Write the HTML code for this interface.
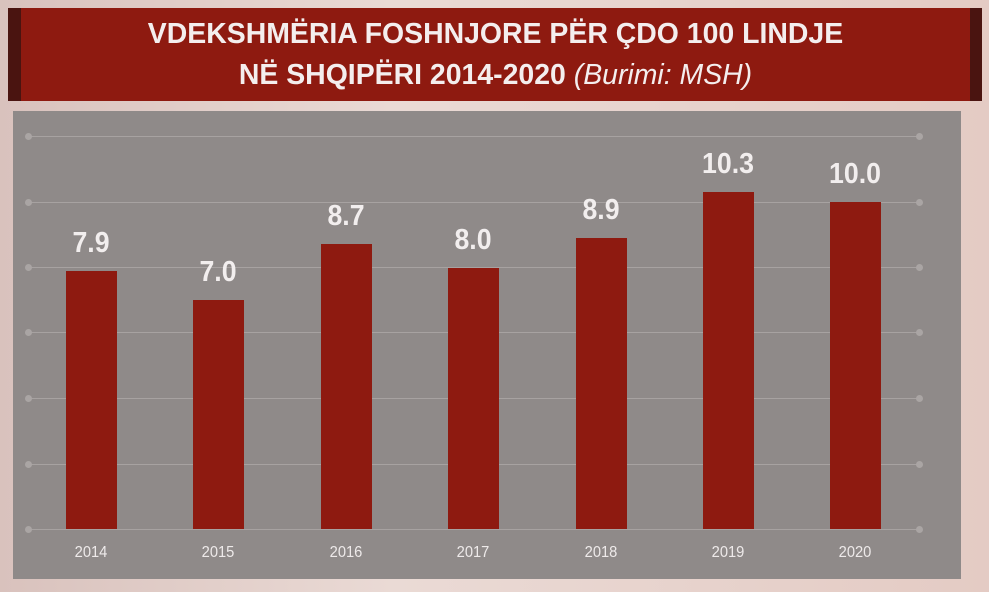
<!DOCTYPE html>
<html><head><meta charset="utf-8"><style>
body{margin:0;width:989px;height:592px;overflow:hidden;background:linear-gradient(90deg,#d9c2bd,#eadad5 40%,#e4cbc4);font-family:"Liberation Sans",sans-serif;position:relative}
.t{position:absolute;left:8px;top:8px;width:974px;height:93px;background:#8e1a10;border-left:13px solid #4a1410;border-right:12px solid #4a1410;box-sizing:border-box}
.t div{position:absolute;left:0;width:100%;text-align:center;color:#f4eeee;font-weight:bold;font-size:29px;transform:scaleX(0.98)}
.p{position:absolute;left:13px;top:111px;width:948px;height:468px;background:#8f8a89}
.g{position:absolute;left:28px;width:891px;height:1px;background:#a7a2a1}
.d{position:absolute;width:7px;height:7px;border-radius:50%;background:#aaa5a4}
.b{position:absolute;width:51px;background:#8e1a10}
.v{position:absolute;width:120px;text-align:center;color:#f2eeee;font-weight:bold;font-size:29px;transform:scaleX(0.92)}
.y{position:absolute;width:100px;text-align:center;color:#eeeaea;font-size:16px;top:544px;transform:scaleX(0.92)}
</style></head><body>
<div class="t"><div style="top:10px">VDEKSHMËRIA FOSHNJORE PËR ÇDO 100 LINDJE</div><div style="top:51px">NË SHQIPËRI 2014-2020 <i style="font-weight:normal">(Burimi: MSH)</i></div></div>
<div class="p"></div>
<div class="g" style="top:136px"></div><div class="g" style="top:202px"></div><div class="g" style="top:267px"></div><div class="g" style="top:332px"></div><div class="g" style="top:398px"></div><div class="g" style="top:464px"></div><div class="g" style="top:529px"></div>
<div class="d" style="left:25px;top:133px"></div><div class="d" style="left:25px;top:199px"></div><div class="d" style="left:25px;top:264px"></div><div class="d" style="left:25px;top:329px"></div><div class="d" style="left:25px;top:395px"></div><div class="d" style="left:25px;top:461px"></div><div class="d" style="left:25px;top:526px"></div>
<div class="d" style="left:916px;top:133px"></div><div class="d" style="left:916px;top:199px"></div><div class="d" style="left:916px;top:264px"></div><div class="d" style="left:916px;top:329px"></div><div class="d" style="left:916px;top:395px"></div><div class="d" style="left:916px;top:461px"></div><div class="d" style="left:916px;top:526px"></div>
<div class="b" style="left:66px;top:271px;height:258px"></div><div class="v" style="left:31px;top:227px">7.9</div><div class="y" style="left:41px">2014</div>
<div class="b" style="left:193px;top:300px;height:229px"></div><div class="v" style="left:158px;top:256px">7.0</div><div class="y" style="left:168px">2015</div>
<div class="b" style="left:321px;top:244px;height:285px"></div><div class="v" style="left:286px;top:200px">8.7</div><div class="y" style="left:296px">2016</div>
<div class="b" style="left:448px;top:268px;height:261px"></div><div class="v" style="left:413px;top:224px">8.0</div><div class="y" style="left:423px">2017</div>
<div class="b" style="left:576px;top:238px;height:291px"></div><div class="v" style="left:541px;top:194px">8.9</div><div class="y" style="left:551px">2018</div>
<div class="b" style="left:703px;top:192px;height:337px"></div><div class="v" style="left:668px;top:148px">10.3</div><div class="y" style="left:678px">2019</div>
<div class="b" style="left:830px;top:202px;height:327px"></div><div class="v" style="left:795px;top:158px">10.0</div><div class="y" style="left:805px">2020</div>
</body></html>
